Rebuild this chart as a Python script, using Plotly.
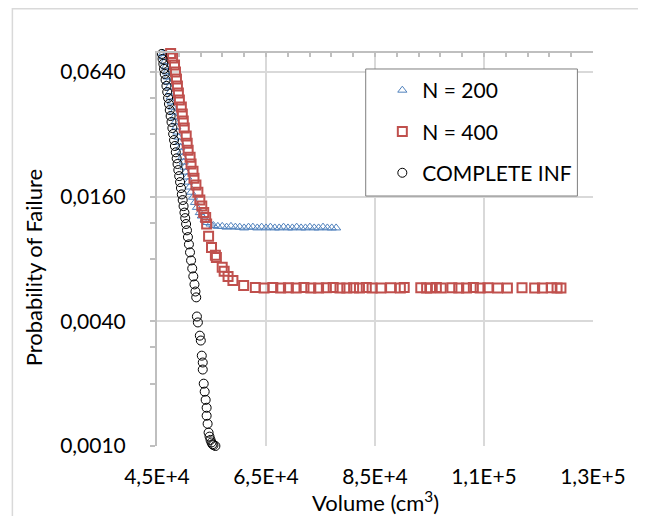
import math
import plotly.graph_objects as go

# ---------------- data ----------------
n200_volume = [46072, 46250, 46429, 46607, 46786, 46965, 47054, 47233, 47411, 47500,
               47679, 47858, 48036, 48215, 48393, 48572, 48751, 48929, 49108, 49286,
               49465, 49644, 49912, 50090, 50269, 50537, 50715, 50983, 51251, 51608,
               51965, 52323, 52858, 53216, 53751, 54287, 54823,
               55360, 56160, 56970, 57770, 58570, 59380, 60180, 60990, 61790, 62590,
               63400, 64200, 65010, 65810, 66610, 67420, 68220, 69030, 69830, 70630,
               71440, 72240, 73050, 73850, 74650, 75460, 76260, 77070, 77870]
n200_pf = [0.0785, 0.0756, 0.0716, 0.0677, 0.0640, 0.0605, 0.0573, 0.0542, 0.0512, 0.0484,
           0.0458, 0.0433, 0.0410, 0.0388, 0.0367, 0.0347, 0.0328, 0.0310, 0.0293, 0.0277,
           0.0262, 0.0248, 0.0235, 0.0222, 0.0210, 0.0199, 0.0188, 0.0178, 0.0168, 0.0159,
           0.0150, 0.0142, 0.0134, 0.0129, 0.0124, 0.0120, 0.0118,
           0.0116, 0.0115, 0.0115, 0.0114, 0.0115, 0.0114, 0.0114, 0.0113, 0.0114, 0.0114,
           0.0113, 0.0114, 0.0113, 0.0114, 0.0113, 0.0113, 0.0114, 0.0113, 0.0113, 0.0114,
           0.0113, 0.0113, 0.0114, 0.0113, 0.0113, 0.0114, 0.0113, 0.0113, 0.0113]

n400_volume = [47500, 47858, 48215, 48393, 48572, 48751, 48929, 49108, 49465, 49644,
               49822, 50001, 50358, 50537, 50715, 51072, 51251, 51608, 51787, 52144,
               52501, 52858, 53216, 53573, 53930, 54109, 54466, 55002, 55716, 55895,
               56966, 57323, 58038, 58931, 60895,
               63039, 64646, 66253, 67682, 69111, 70540, 71969, 73219, 74648, 76076,
               77327, 78577, 79827, 81077, 82149, 83399, 84471, 86078, 87864, 89650,
               90364, 93401, 94472, 95187, 96258, 97151, 99116, 100366, 101795, 103045,
               104295, 105724, 107510, 109296, 111975, 114297, 115726, 117333, 118405, 119119]
n400_pf = [0.0785, 0.0748, 0.0692, 0.0640, 0.0592, 0.0548, 0.0507, 0.0469, 0.0433, 0.0401,
           0.0371, 0.0343, 0.0314, 0.0290, 0.0268, 0.0248, 0.0230, 0.0212, 0.0196, 0.0182,
           0.0168, 0.0154, 0.0144, 0.0134, 0.0127, 0.0118, 0.0103, 0.00910, 0.00833, 0.00814,
           0.00729, 0.00697, 0.00659, 0.00630, 0.00596,
           0.00583, 0.00580, 0.00582, 0.00579, 0.00581, 0.00580, 0.00583, 0.00580, 0.00579, 0.00581,
           0.00582, 0.00580, 0.00579, 0.00581, 0.00580, 0.00582, 0.00580, 0.00579, 0.00581, 0.00580,
           0.00582, 0.00581, 0.00579, 0.00580, 0.00582, 0.00580, 0.00581, 0.00579, 0.00580, 0.00582,
           0.00580, 0.00581, 0.00579, 0.00580, 0.00581, 0.00580, 0.00579, 0.00581, 0.00580, 0.00579]

inf_volume = [45893, 46018, 46161, 46286, 46411, 46572, 46732, 46875, 47036, 47197,
              47340, 47500, 47661, 47822, 47965, 48126, 48286, 48447, 48608, 48769,
              48912, 49072, 49233, 49394, 49554, 49715, 49876, 50037, 50180, 50340,
              50501, 50679, 50858, 51055, 51251, 51465, 51662, 51876, 52055, 52198,
              52323, 52501, 52858, 53037, 53216, 53394, 53394, 53573, 53751, 53930,
              54109, 54109, 54287, 54466, 54644, 54823, 55002, 55180, 55360, 55716]
inf_pf = [0.0782, 0.0740, 0.0700, 0.0662, 0.0626, 0.0586, 0.0548, 0.0512, 0.0479, 0.0448,
          0.0419, 0.0392, 0.0367, 0.0343, 0.0321, 0.0300, 0.0281, 0.0262, 0.0245, 0.0230,
          0.0215, 0.0201, 0.0188, 0.0176, 0.0164, 0.0154, 0.0144, 0.0134, 0.0126, 0.0118,
          0.0110, 0.0102, 0.00941, 0.00861, 0.00787, 0.00720, 0.00659, 0.00603, 0.00557, 0.00522,
          0.00422, 0.00395, 0.00341, 0.00323, 0.00273, 0.00253, 0.00234, 0.00200, 0.00183, 0.00167,
          0.00153, 0.00140, 0.00128, 0.00116, 0.00111, 0.00107, 0.00104, 0.00102, 0.00101, 0.00100]

x_tickvals = [45000, 65000, 85000, 105000, 125000]
x_ticktext = ["4,5E+4", "6,5E+4", "8,5E+4", "1,1E+5", "1,3E+5"]
y_tickvals = [0.001, 0.004, 0.016, 0.064]
y_ticktext = ["0,0010", "0,0040", "0,0160", "0,0640"]
y_minor = [0.002, 0.003, 0.008, 0.012, 0.032, 0.048]
x_range = [45000, 125000]
y_range = [0.001, 0.079]

FONT = "Lato"
GRID = "#d9d9d9"
AXIS = "#bfbfbf"

# figure sits inside the page's 8px body margin
W, H = 630, 508
ML, MT, PW, PH = 149, 45, 447, 393

fig = go.Figure()
fig.add_trace(go.Scatter(
    x=n200_volume, y=n200_pf, mode="markers", name="N = 200", legendgroup="a",
    marker=dict(symbol="triangle-up-open", size=8, color="#4f81bd", line=dict(width=1)),
    cliponaxis=False))
fig.add_trace(go.Scatter(
    x=n400_volume, y=n400_pf, mode="markers", name="N = 400", legendgroup="b",
    marker=dict(symbol="square-open", size=9, color="#c0504d", line=dict(width=2)),
    cliponaxis=False))
fig.add_trace(go.Scatter(
    x=inf_volume, y=inf_pf, mode="markers", name="COMPLETE INF", legendgroup="c",
    marker=dict(symbol="circle-open", size=9, color="#000000", line=dict(width=1)),
    cliponaxis=False))
# empty trace so the top (mirror) axis is drawn
fig.add_trace(go.Scatter(x=[], y=[], xaxis="x2", showlegend=False, hoverinfo="skip"))

# paper coords of the chart-area border at the figure's edge
bx0 = (0.75 - ML) / PW
by1 = 1 + (MT - 0.75) / PH

fig.update_layout(
    width=W, height=H,
    margin=dict(l=ML, r=W - ML - PW, t=MT, b=H - MT - PH),
    paper_bgcolor="white", plot_bgcolor="white",
    font=dict(family=FONT, size=21, color="#000000"),
    showlegend=True,
    legend=dict(x=0.5168, y=0.9567, xanchor="left", yanchor="top",
                bgcolor="rgba(0,0,0,0)", borderwidth=0, tracegroupgap=11,
                font=dict(family=FONT, size=21, color="#000000")),
    xaxis=dict(range=x_range, tickmode="array", tickvals=x_tickvals, ticktext=x_ticktext,
               showgrid=True, gridcolor=GRID, gridwidth=1.5, showline=False,
               zeroline=False, ticks="", ticklabelstandoff=16,
               tickfont=dict(family=FONT, size=21)),
    xaxis2=dict(overlaying="x", side="top", range=x_range, showline=True,
                linecolor=AXIS, linewidth=2, ticks="inside", ticklen=4,
                tickcolor=AXIS, tickwidth=1.5, tickmode="linear", tick0=45000, dtick=20000,
                showticklabels=False, showgrid=False, zeroline=False,
                minor=dict(ticks="inside", ticklen=4, tickcolor=AXIS, tickwidth=1.5,
                           tickmode="linear", tick0=45000, dtick=4000, showgrid=False)),
    yaxis=dict(type="log", range=[math.log10(y_range[0]), math.log10(y_range[1])],
               tickmode="array", tickvals=y_tickvals, ticktext=y_ticktext,
               showgrid=True, gridcolor=GRID, gridwidth=1.5,
               showline=True, linecolor=AXIS, linewidth=2,
               ticks="outside", ticklen=5, tickcolor=AXIS, tickwidth=1.5,
               ticklabelstandoff=20,
               zeroline=False, tickfont=dict(family=FONT, size=21),
               minor=dict(tickmode="array", tickvals=y_minor, ticks="outside", ticklen=5,
                          tickcolor=AXIS, tickwidth=1.5, showgrid=False)),
    shapes=[
        # chart-area border
        dict(type="rect", xref="paper", yref="paper",
             x0=bx0, x1=1.2, y0=-0.3, y1=by1,
             line=dict(color=GRID, width=1.5), layer="below"),
        # legend box
        dict(type="rect", xref="paper", yref="paper",
             x0=0.4787, x1=0.9642, y0=0.6361, y1=0.9593,
             line=dict(color="#7f7f7f", width=1), fillcolor="white", layer="above"),
    ],
    annotations=[
        dict(text="Probability of Failure", xref="paper", yref="paper",
             x=-0.284, y=0.455, textangle=-90, showarrow=False,
             xanchor="center", yanchor="middle", font=dict(family=FONT, size=22)),
        dict(text="Volume (cm<sup>3</sup>)", xref="paper", yref="paper",
             x=0.501, y=-0.140, showarrow=False,
             xanchor="center", yanchor="middle", font=dict(family=FONT, size=22)),
    ],
)

fig.write_html("out.html")
